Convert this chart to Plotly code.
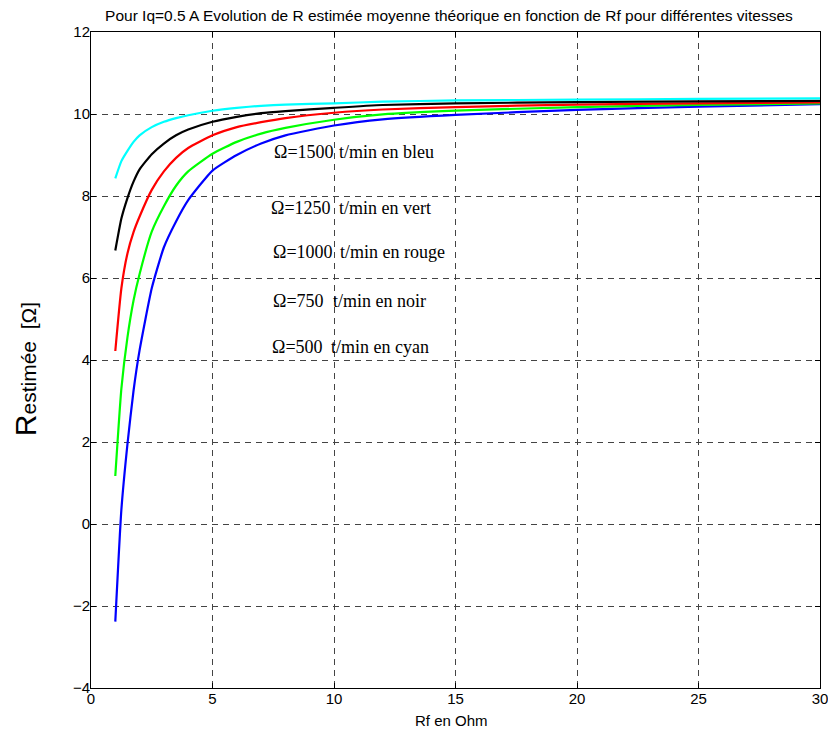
import plotly.graph_objects as go

# Rf values (Ohm)
rf = [1, 1.25, 1.5, 1.75, 2, 2.5, 3, 3.5, 4, 5, 6, 7, 8, 10, 12, 15, 20, 25, 30]

# R estimée for each speed
r_1500_bleu = [-2.38, 0.35, 1.95, 3.25, 4.24, 5.75, 6.75, 7.38, 7.90, 8.62, 9.00, 9.28, 9.48, 9.72, 9.87, 9.98, 10.10, 10.18, 10.24]
r_1250_vert = [1.17, 3.30, 4.55, 5.45, 6.10, 7.13, 7.75, 8.25, 8.60, 9.03, 9.32, 9.52, 9.66, 9.86, 9.99, 10.08, 10.17, 10.22, 10.26]
r_1000_rouge = [4.22, 5.75, 6.60, 7.12, 7.50, 8.15, 8.60, 8.93, 9.17, 9.48, 9.68, 9.80, 9.90, 10.03, 10.11, 10.17, 10.23, 10.26, 10.28]
r_750_noir = [6.67, 7.45, 7.95, 8.35, 8.65, 9.02, 9.28, 9.48, 9.62, 9.81, 9.93, 10.02, 10.07, 10.15, 10.22, 10.26, 10.29, 10.31, 10.32]
r_500_cyan = [8.43, 8.85, 9.10, 9.32, 9.48, 9.68, 9.81, 9.90, 9.97, 10.08, 10.15, 10.20, 10.23, 10.26, 10.30, 10.33, 10.35, 10.37, 10.38]

series = [
    (r_1500_bleu, "#0000FF"),
    (r_1250_vert, "#00FF00"),
    (r_1000_rouge, "#FF0000"),
    (r_750_noir, "#000000"),
    (r_500_cyan, "#00FFFF"),
]

label_left = ["Ω=1500", "Ω=1250", "Ω=1000", "Ω=750", "Ω=500"]
label_right = ["t/min en bleu", "t/min en vert", "t/min en rouge", "t/min en noir", "t/min en cyan"]
label_y = [9.08, 7.71, 6.64, 5.45, 4.32]
label_x_left = [7.44, 7.34, 7.40, 7.40, 7.37]
label_x_right = [10.11, 10.11, 10.18, 9.86, 9.80]

x_ticks = [0, 5, 10, 15, 20, 25, 30]
y_ticks = [-4, -2, 0, 2, 4, 6, 8, 10, 12]

fig = go.Figure()
for vals, col in series:
    fig.add_trace(go.Scatter(x=rf, y=vals, mode="lines", line=dict(color=col, width=2.2, shape="spline", smoothing=0.5),
                             showlegend=False, hoverinfo="skip"))

serif = "Liberation Serif, Times New Roman, serif"
for i in range(len(label_left)):
    fig.add_annotation(x=label_x_left[i], y=label_y[i], text=label_left[i], showarrow=False,
                       xanchor="left", yanchor="middle", font=dict(family=serif, size=18, color="black"))
    fig.add_annotation(x=label_x_right[i], y=label_y[i], text=label_right[i], showarrow=False,
                       xanchor="left", yanchor="middle", font=dict(family=serif, size=18, color="black"))

sans = "Liberation Sans, Arial, sans-serif"
fig.add_annotation(xref="paper", yref="paper", x=-0.0905, y=0.486,
                   text='<span style="font-size:30px">R</span><span style="font-size:21px">estimée</span>  [Ω]',
                   textangle=-90, showarrow=False, xanchor="center", yanchor="middle",
                   font=dict(family=sans, size=21, color="black"))
fig.add_annotation(xref="paper", yref="paper", x=0.495, y=-0.0488, text="Rf en Ohm",
                   showarrow=False, xanchor="center", yanchor="middle", font=dict(family=sans, size=15, color="black"))

axis_common = dict(showline=True, linecolor="black", linewidth=1, mirror="allticks", ticks="inside", ticklen=5,
                   tickcolor="black", showgrid=True, gridcolor="#444", griddash="6px,5px", gridwidth=1,
                   zeroline=False, ticklabelstandoff=-3, ticklabeloverflow="allow", automargin=False,
                   tickfont=dict(family=sans, size=15, color="black"))

fig.update_xaxes(range=[0, 30], tickvals=x_ticks, **axis_common)
fig.update_yaxes(range=[-4, 12], tickvals=y_ticks, **axis_common)

fig.update_layout(
    width=828, height=729,
    margin=dict(l=91, r=8, t=32, b=41),
    paper_bgcolor="white", plot_bgcolor="white",
    title=dict(text="Pour Iq=0.5 A Evolution de R estimée moyenne théorique en fonction de Rf pour différentes vitesses",
               x=0.491, xref="paper", xanchor="center", y=1 - 16 / 729, yanchor="middle",
               font=dict(family=sans, size=15.5, color="black")),
)

fig.write_html("out.html", config={"displayModeBar": False},
               post_script="document.body.style.margin='0';document.body.style.overflow='hidden';")
